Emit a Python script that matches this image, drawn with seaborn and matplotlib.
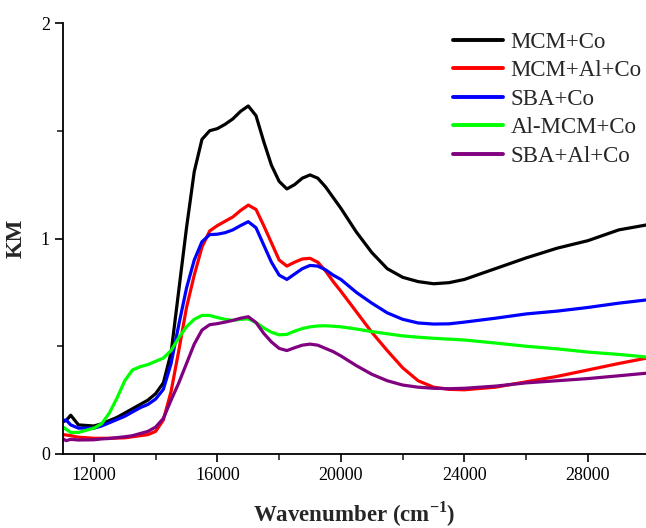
import numpy as np
import pandas as pd
import matplotlib
matplotlib.use("Agg")
import matplotlib.pyplot as plt
import seaborn as sns
from matplotlib.ticker import MultipleLocator

wavenumber = [11000, 11100, 11250, 11500, 12000, 12250, 12500, 12750, 13000, 13250,
              13500, 13750, 14000, 14250, 14500, 14750, 15000, 15250, 15500, 15750,
              16000, 16250, 16500, 16750, 17000, 17250, 17500, 17750, 18000, 18250,
              18500, 18750, 19000, 19250, 19500, 19750, 20000, 20500, 21000, 21500,
              22000, 22500, 23000, 23500, 24000, 25000, 26000, 27000, 28000, 29000,
              29900]

mcm_co = [0.15, 0.155, 0.18, 0.135, 0.13, 0.14, 0.155, 0.17, 0.19, 0.21,
          0.23, 0.25, 0.28, 0.33, 0.47, 0.76, 1.05, 1.31, 1.46, 1.50,
          1.51, 1.53, 1.555, 1.59, 1.615, 1.57, 1.45, 1.34, 1.265, 1.23,
          1.25, 1.28, 1.295, 1.28, 1.24, 1.19, 1.14, 1.03, 0.935, 0.86,
          0.82, 0.80, 0.79, 0.795, 0.81, 0.86, 0.91, 0.955, 0.99, 1.04,
          1.063]

mcm_al_co = [0.09, 0.088, 0.085, 0.078, 0.073, 0.073, 0.073, 0.074, 0.075, 0.08,
             0.085, 0.09, 0.105, 0.158, 0.29, 0.48, 0.68, 0.83, 0.96, 1.035,
             1.06, 1.08, 1.10, 1.13, 1.155, 1.135, 1.06, 0.98, 0.90, 0.872,
             0.89, 0.905, 0.908, 0.89, 0.85, 0.80, 0.755, 0.66, 0.565, 0.48,
             0.40, 0.34, 0.31, 0.30, 0.298, 0.31, 0.335, 0.36, 0.39, 0.42,
             0.445]

sba_co = [0.155, 0.158, 0.135, 0.12, 0.12, 0.13, 0.145, 0.16, 0.175, 0.195,
          0.215, 0.23, 0.255, 0.30, 0.42, 0.60, 0.77, 0.90, 0.985, 1.018,
          1.02, 1.027, 1.04, 1.06, 1.078, 1.05, 0.97, 0.89, 0.83, 0.81,
          0.835, 0.86, 0.875, 0.872, 0.855, 0.83, 0.81, 0.75, 0.70, 0.655,
          0.625, 0.608, 0.603, 0.604, 0.612, 0.63, 0.65, 0.663, 0.68, 0.70,
          0.715]

al_mcm_co = [0.125, 0.115, 0.10, 0.10, 0.12, 0.14, 0.19, 0.26, 0.34, 0.39,
             0.405, 0.415, 0.43, 0.445, 0.48, 0.54, 0.59, 0.625, 0.643, 0.643,
             0.633, 0.625, 0.62, 0.625, 0.627, 0.61, 0.585, 0.565, 0.553, 0.555,
             0.57, 0.582, 0.59, 0.594, 0.595, 0.593, 0.59, 0.58, 0.568, 0.558,
             0.548, 0.542, 0.537, 0.533, 0.529, 0.515, 0.50, 0.488, 0.473, 0.462,
             0.45]

sba_al_co = [0.07, 0.062, 0.068, 0.065, 0.066, 0.07, 0.072, 0.076, 0.08, 0.085,
             0.095, 0.105, 0.125, 0.165, 0.25, 0.33, 0.42, 0.51, 0.575, 0.60,
             0.605, 0.612, 0.62, 0.63, 0.637, 0.61, 0.56, 0.52, 0.49, 0.48,
             0.493, 0.505, 0.51, 0.505, 0.49, 0.475, 0.455, 0.41, 0.37, 0.34,
             0.32, 0.31, 0.305, 0.303, 0.305, 0.315, 0.33, 0.34, 0.35, 0.363,
             0.375]

labels = ["MCM+Co", "MCM+Al+Co", "SBA+Co", "Al-MCM+Co", "SBA+Al+Co"]
colors = ["#000000", "#FF0000", "#0000FF", "#00FF00", "#800080"]
x_ticks = [12000, 16000, 20000, 24000, 28000]
y_ticks = [0, 1, 2]

series = [mcm_co, mcm_al_co, sba_co, al_mcm_co, sba_al_co]
df = pd.concat([pd.DataFrame({"Wavenumber": wavenumber, "KM": vals, "Sample": lab})
                for lab, vals in zip(labels, series)], ignore_index=True)

sns.set_theme(style="ticks")
plt.rcParams["font.family"] = ["Liberation Serif", "DejaVu Serif"]
plt.rcParams["mathtext.fontset"] = "custom"
plt.rcParams["mathtext.rm"] = "Liberation Serif"
plt.rcParams["mathtext.bf"] = "Liberation Serif:bold"

fig = plt.figure(figsize=(6.46, 5.28), dpi=100)
ax = fig.add_axes([63/646, 74/528, 1 - 63/646, (454-23)/528])

sns.lineplot(data=df, x="Wavenumber", y="KM", hue="Sample", hue_order=labels,
             palette=colors, linewidth=2.3, ax=ax, sort=False, estimator=None)

ax.set_xlim(11000, 29880)
ax.set_ylim(0, 2)
ax.set_xticks(x_ticks)
ax.set_yticks(y_ticks)
ax.xaxis.set_minor_locator(MultipleLocator(2000))
ax.yaxis.set_minor_locator(MultipleLocator(0.5))
ax.tick_params(which="major", direction="out", length=6, width=1.2, labelsize=13, colors="black")
ax.tick_params(which="minor", direction="out", length=4, width=1.2)
sns.despine(ax=ax)
for s in ["left", "bottom"]:
    ax.spines[s].set_linewidth(1.3)
    ax.spines[s].set_color("black")

ax.set_xlabel(r"Wavenumber (cm$^{\mathbf{-1}}$)", fontsize=16.5, fontweight="bold", labelpad=11)
ax.set_ylabel("KM", fontsize=16.5, fontweight="bold", labelpad=10)

leg = ax.legend(loc="upper right", bbox_to_anchor=(1.028, 1.028), frameon=False,
                fontsize=16.5, handlelength=2.15, handletextpad=0.35, labelspacing=0.33)
for line in leg.get_lines():
    line.set_linewidth(2.8)

fig.savefig("out.png", dpi=100)
